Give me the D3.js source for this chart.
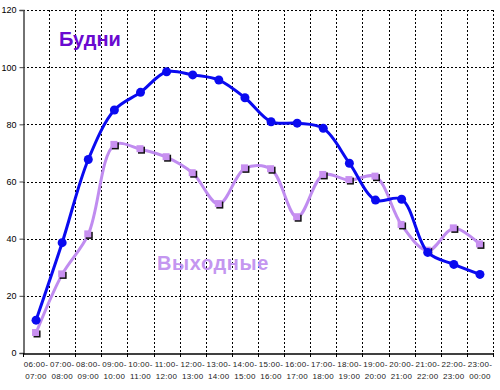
<!DOCTYPE html>
<html><head><meta charset="utf-8">
<script src="https://cdn.jsdelivr.net/npm/d3@7"></script>
<style>body{margin:0;background:#fff}svg{display:block}</style>
</head><body>
<svg id="c" width="500" height="390"></svg>
<script>
const categories = ["06:00-|07:00","07:00-|08:00","08:00-|09:00","09:00-|10:00","10:00-|11:00","11:00-|12:00","12:00-|13:00","13:00-|14:00","14:00-|15:00","15:00-|16:00","16:00-|17:00","17:00-|18:00","18:00-|19:00","19:00-|20:00","20:00-|21:00","21:00-|22:00","22:00-|23:00","23:00-|00:00"];
const weekdays = [11.5,38.6,67.7,85,91.2,98.4,97.3,95.5,89.3,80.9,80.4,78.6,66.4,53.5,53.8,35.2,31,27.5];
const weekends = [7,27.5,41.5,72.8,71.3,68.5,62.9,52.1,64.6,64.3,47.5,62.3,60.5,61.7,44.8,35.8,43.6,38];
const yTicks = [0,20,40,60,80,100,120];
const weekdayLabel = "Будни";
const weekendLabel = "Выходные";

const svg = d3.select("#c");
const L = 23, R = 493, T = 10, B = 353;
const x = d3.scaleBand().domain(categories).range([L, R]);
const y = d3.scaleLinear().domain([0,120]).range([B, T]);

// grid
const g = svg.append("g");
g.selectAll(".hg").data(yTicks.slice(1)).join("line")
  .attr("x1", L).attr("x2", R).attr("y1", d=>Math.round(y(d))+0.5).attr("y2", d=>Math.round(y(d))+0.5)
  .attr("stroke","#000").attr("stroke-dasharray","2,2").attr("stroke-width",1);
g.selectAll(".vg").data(categories.slice(1).concat([null])).join("line")
  .attr("x1", (d,i)=>Math.round(L + x.step()*(i+1))+0.5).attr("x2",(d,i)=>Math.round(L + x.step()*(i+1))+0.5)
  .attr("y1", T).attr("y2", B)
  .attr("stroke","#000").attr("stroke-dasharray","2,2").attr("stroke-width",1);

// y axis
const ya = svg.append("g").attr("transform",`translate(${L+0.5},0)`)
  .call(d3.axisLeft(y).tickValues(yTicks).tickSize(4).tickPadding(3).tickFormat(d3.format("d")));
ya.select(".domain").attr("stroke","#444").attr("stroke-width",1.5);
ya.selectAll("line").attr("stroke","#444");
ya.selectAll("text").attr("font-family","Liberation Sans, Arial, sans-serif").attr("font-size",9).attr("fill","#000");

// x axis
const xa = svg.append("g").attr("transform",`translate(0,${B+0.5})`)
  .call(d3.axisBottom(x).tickSize(0).tickFormat(""));
xa.select(".domain").attr("stroke","#000").attr("stroke-width",1.5);
svg.append("g").selectAll("line").data(d3.range(categories.length+1)).join("line")
  .attr("x1",i=>Math.round(L+x.step()*i)+0.5).attr("x2",i=>Math.round(L+x.step()*i)+0.5)
  .attr("y1",B).attr("y2",B+4).attr("stroke","#000");
const lab = svg.append("g").selectAll("text").data(categories).join("text")
  .attr("x", d=>x(d)+x.bandwidth()/2).attr("y", 367)
  .attr("text-anchor","middle").attr("font-family","Liberation Sans Narrow, Liberation Sans, Arial, sans-serif")
  .attr("font-size",8).attr("letter-spacing",0.3).attr("fill","#222");
lab.append("tspan").attr("x", d=>x(d)+x.bandwidth()/2).text(d=>d.split("|")[0]);
lab.append("tspan").attr("x", d=>x(d)+x.bandwidth()/2).attr("dy",12).text(d=>d.split("|")[1]);

const cx = (d,i)=>x(categories[i])+x.bandwidth()/2;
const line = d3.line().x(cx).y(d=>y(d)).curve(d3.curveCatmullRom.alpha(0.5));

// weekends
svg.append("path").datum(weekends).attr("d",line).attr("fill","none")
  .attr("stroke","#c08cf0").attr("stroke-width",3);
svg.append("g").selectAll("rect").data(weekends).join("rect")
  .attr("x",(d,i)=>cx(d,i)-2.5).attr("y",d=>y(d)-2.5).attr("width",7).attr("height",7).attr("fill","#111");
svg.append("g").selectAll("rect").data(weekends).join("rect")
  .attr("x",(d,i)=>cx(d,i)-4).attr("y",d=>y(d)-4).attr("width",7).attr("height",7).attr("fill","#c890f0");

// weekdays
svg.append("path").datum(weekdays).attr("d",line).attr("fill","none")
  .attr("stroke","#0a0af0").attr("stroke-width",3);
svg.append("g").selectAll("circle").data(weekdays).join("circle")
  .attr("cx",cx).attr("cy",d=>y(d)).attr("r",4.5).attr("fill","#0a0af0");

svg.append("text").attr("x",59).attr("y",46).text(weekdayLabel)
  .attr("font-family","Liberation Sans, Arial, sans-serif").attr("font-weight","bold").attr("font-size",20).attr("fill","#6a0ad0");
svg.append("text").attr("x",157).attr("y",270).text(weekendLabel).attr("letter-spacing",0.6)
  .attr("font-family","Liberation Sans, Arial, sans-serif").attr("font-weight","bold").attr("font-size",20).attr("fill","#c496f0");
</script>
</body></html>
